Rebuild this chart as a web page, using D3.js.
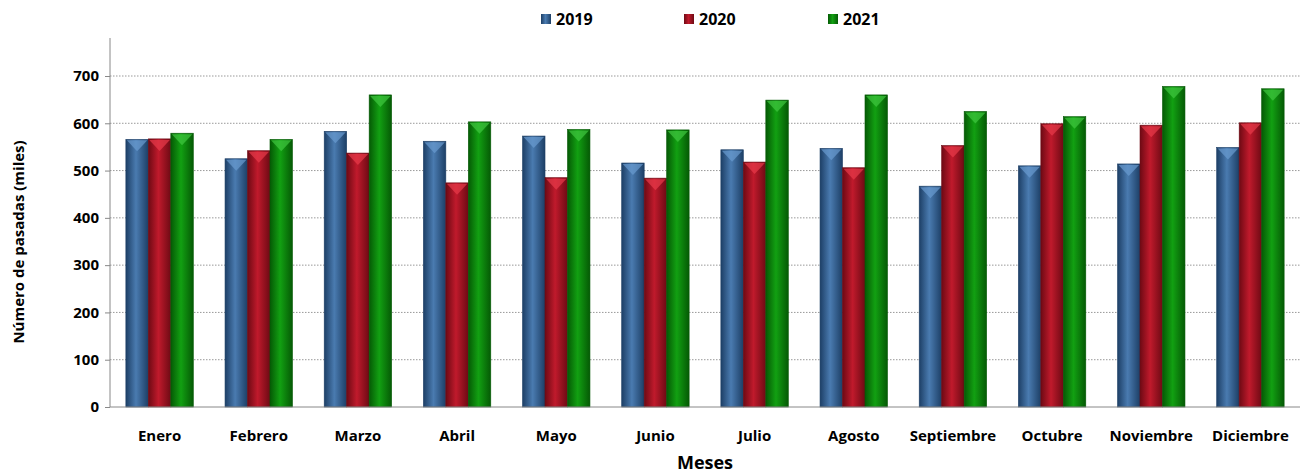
<!DOCTYPE html>
<html><head><meta charset="utf-8">
<script src="https://cdn.jsdelivr.net/npm/d3@7"></script>
<style>body{margin:0;background:#fff}svg{font-family:"Open Sans",Arial,sans-serif}</style>
</head><body><svg id="c" width="1306" height="473"></svg>
<script>
const months=["Enero","Febrero","Marzo","Abril","Mayo","Junio","Julio","Agosto","Septiembre","Octubre","Noviembre","Diciembre"];
const series=["2019","2020","2021"];
const v2019=[566,525,583,562,573,516,544,547,467,510,514,549];
const v2020=[567,542,537,474,485,484,518,506,553,599,596,601];
const v2021=[579,566,660,603,587,586,649,660,625,614,678,673];
const yTicks=[0,100,200,300,400,500,600,700];
const values=[v2019,v2020,v2021];
const colors=[["#1d3f66","#4a7bb0","#1d3f66"],["#6e0a14","#c01a2c","#6e0a14"],["#055a05","#12a012","#055a05"]];
const tops=["#6a9bd0","#e83a4a","#40c840"];

const svg=d3.select("#c");
const L=110,R=1300,T=76,B=407;
const x=d3.scaleBand().domain(months).range([L,R]).paddingInner(0.32).paddingOuter(0.16);
const xs=d3.scaleBand().domain(series).range([0,x.bandwidth()]);
const y=d3.scaleLinear().domain([0,700]).range([B,T]);
const defs=svg.append("defs");
colors.forEach((c,i)=>{const g=defs.append("linearGradient").attr("id","g"+i).attr("x1",0).attr("x2",1);
 g.append("stop").attr("offset","0").attr("stop-color",c[0]);
 g.append("stop").attr("offset","0.45").attr("stop-color",c[1]);
 g.append("stop").attr("offset","1").attr("stop-color",c[2]);});
// grid
svg.append("g").selectAll("line").data(yTicks.filter(d=>d>0)).join("line")
 .attr("x1",L).attr("x2",R).attr("y1",d=>y(d)).attr("y2",d=>y(d))
 .attr("stroke","#999").attr("stroke-dasharray","1.5,1.5");
// bars
series.forEach((s,i)=>{
 const g=svg.append("g");
 g.selectAll("rect").data(months).join("rect")
  .attr("x",m=>x(m)+xs(s)).attr("width",xs.bandwidth())
  .attr("y",(m,j)=>y(values[i][j])).attr("height",(m,j)=>B-y(values[i][j]))
  .attr("fill","url(#g"+i+")").attr("stroke",colors[i][0]).attr("stroke-width",0.6);
 g.selectAll("path").data(months).join("path")
  .attr("d",(m,j)=>{const x0=x(m)+xs(s),w=xs.bandwidth(),t=y(values[i][j]);
   return `M${x0+1},${t+1}L${x0+w-1},${t+1}L${x0+w/2},${t+12}Z`;})
  .attr("fill",tops[i]).attr("opacity",0.7);
});
// axes
svg.append("line").attr("x1",L).attr("x2",L).attr("y1",38).attr("y2",B).attr("stroke","#888");
svg.append("line").attr("x1",L).attr("x2",R).attr("y1",B).attr("y2",B).attr("stroke","#888");
const ya=svg.append("g").attr("transform",`translate(${L},0)`).call(d3.axisLeft(y).tickValues(yTicks).tickSize(5).tickPadding(6));
ya.select(".domain").remove();
ya.selectAll("line").attr("stroke","#888");
ya.selectAll("text").attr("font-size",15).attr("font-weight","bold").attr("fill","#000").attr("font-family","Open Sans");
const xa=svg.append("g").attr("transform",`translate(0,${B})`).call(d3.axisBottom(x).tickSize(0).tickPadding(23));
xa.select(".domain").remove();
xa.selectAll("text").attr("font-size",15).attr("font-weight","bold").attr("fill","#000").attr("font-family","Open Sans");
svg.append("text").attr("x",705).attr("y",469).attr("text-anchor","middle").attr("font-size",18).attr("font-weight","bold").text("Meses");
svg.append("text").attr("transform","translate(24,242) rotate(-90)").attr("text-anchor","middle").attr("font-size",15).attr("font-weight","bold").text("Número de pasadas (miles)");
// legend
const lx=[541,684,828];
series.forEach((s,i)=>{
 svg.append("rect").attr("x",lx[i]).attr("y",14).attr("width",10).attr("height",10).attr("fill","url(#g"+i+")");
 svg.append("text").attr("x",lx[i]+15).attr("y",25).attr("font-size",16).attr("font-weight","bold").text(s);
});
</script></body></html>
